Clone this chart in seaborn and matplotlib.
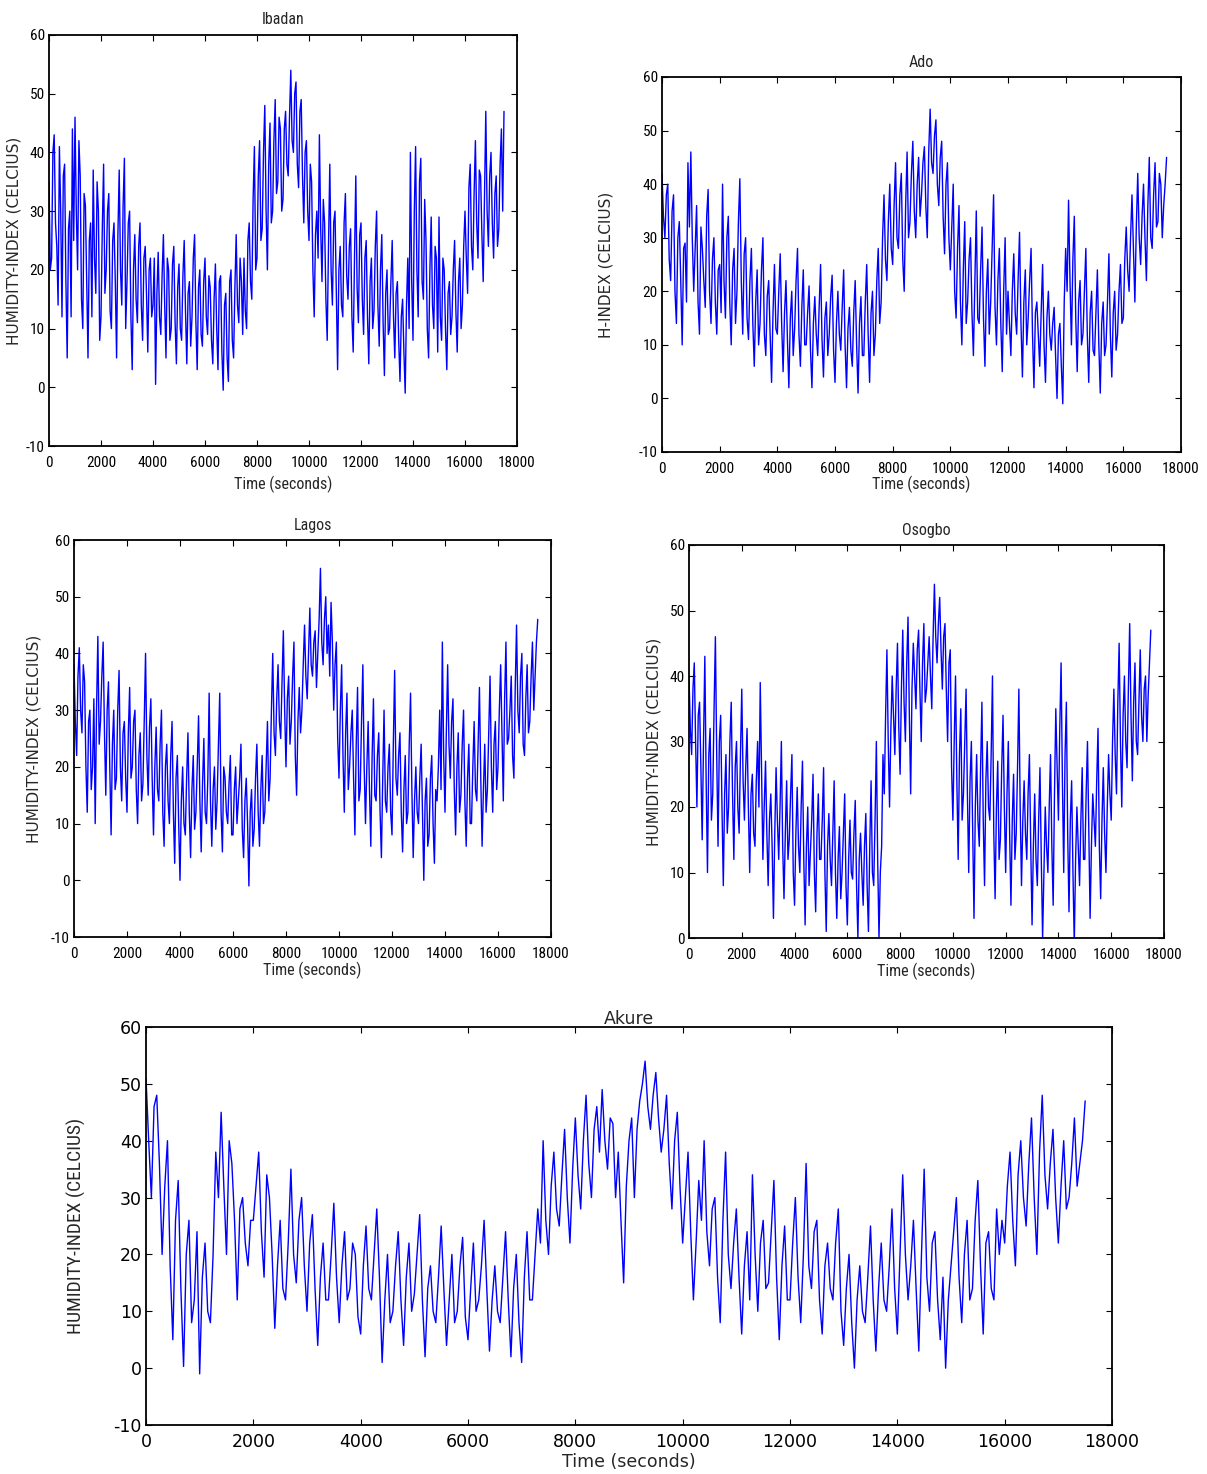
import numpy as np
import pandas as pd
import seaborn as sns
import matplotlib
matplotlib.use("Agg")
import matplotlib.pyplot as plt
from matplotlib import font_manager
from matplotlib.font_manager import FontProperties

# ---------------- data ----------------
# values at t = 0, 100, 200, ... s  and at t = 50, 150, 250, ... s
ibadan_t00 = [35, 22, 43, 24, 41, 12, 38, 5, 30, 44,
              46, 20, 36, 10, 31, 5, 28, 37, 16, 30,
              12, 38, 20, 33, 10, 28, 5, 37, 14, 39,
              18, 30, 3, 26, 11, 28, 8, 24, 6, 22,
              14, 0.5, 23, 9, 26, 5, 20, 10, 24, 4,
              21, 8, 25, 4, 18, 12, 26, 3, 20, 7,
              22, 9, 17, 4, 21, 3, 19, -0.5, 16, 1,
              20, 5, 26, 11, 18, 22, 10, 28, 15, 41,
              22, 42, 27, 48, 20, 45, 30, 49, 35, 44,
              32, 47, 36, 54, 40, 52, 34, 49, 28, 42,
              25, 35, 12, 30, 43, 18, 28, 8, 38, 14,
              30, 3, 24, 12, 33, 15, 27, 6, 36, 11,
              28, 9, 25, 4, 22, 13, 30, 7, 26, 2,
              20, 10, 25, 5, 18, 1, 15, -1, 22, 40,
              8, 41, 12, 39, 15, 25, 5, 29, 10, 22,
              29, 8, 20, 3, 18, 12, 25, 6, 22, 14,
              30, 16, 38, 20, 42, 22, 36, 18, 47, 24,
              40, 22, 36, 27, 44, 47]
ibadan_t50 = [20, 40, 28, 14, 30, 36, 18, 27, 12, 25,
              30, 42, 15, 33, 18, 25, 12, 22, 35, 8,
              27, 16, 30, 13, 25, 18, 26, 20, 31, 10,
              28, 12, 20, 15, 24, 14, 22, 16, 20, 12,
              22, 16, 12, 19, 14, 22, 8, 21, 11, 17,
              10, 19, 13, 16, 7, 22, 11, 17, 9, 18,
              12, 19, 8, 15, 10, 18, 6, 14, 5, 18,
              8, 17, 14, 22, 9, 13, 25, 18, 32, 20,
              36, 25, 40, 30, 38, 28, 42, 33, 46, 30,
              44, 38, 46, 42, 50, 38, 47, 36, 40, 30,
              38, 20, 26, 22, 27, 32, 15, 24, 20, 28,
              16, 20, 14, 28, 19, 24, 12, 22, 17, 26,
              15, 22, 12, 18, 10, 24, 14, 20, 11, 16,
              9, 18, 12, 16, 8, 12, 6, 14, 10, 18,
              30, 20, 35, 18, 32, 10, 20, 14, 24, 6,
              12, 22, 10, 16, 9, 20, 13, 18, 10, 24,
              22, 34, 24, 33, 28, 37, 26, 32, 30, 36,
              28, 33, 24, 38, 30]

ado_t00 = [42, 30, 40, 22, 38, 14, 33, 10, 29, 44,
           46, 20, 36, 12, 28, 17, 39, 14, 30, 12,
           25, 40, 15, 34, 10, 28, 20, 41, 12, 30,
           11, 28, 6, 24, 14, 30, 8, 22, 3, 25,
           12, 27, 5, 22, 2, 20, 13, 28, 6, 24,
           10, 21, 2, 19, 8, 25, 4, 18, 12, 23,
           3, 20, 9, 24, 2, 17, 6, 22, 1, 19,
           8, 25, 3, 20, 12, 28, 18, 38, 22, 40,
           25, 44, 28, 42, 20, 46, 33, 48, 30, 45,
           38, 47, 30, 54, 42, 52, 36, 48, 27, 44,
           24, 40, 15, 36, 10, 33, 18, 30, 8, 35,
           14, 32, 6, 26, 18, 38, 10, 28, 5, 30,
           20, 8, 27, 12, 31, 4, 24, 15, 28, 2,
           18, 6, 25, 3, 20, 9, 17, 0, 14, -1,
           28, 37, 10, 34, 5, 22, 12, 28, 3, 20,
           8, 24, 1, 18, 10, 27, 4, 20, 12, 25,
           15, 32, 20, 38, 18, 42, 25, 40, 22, 45,
           28, 44, 33, 40, 36, 45]
ado_t50 = [34, 38, 26, 35, 20, 30, 22, 28, 18, 32,
           30, 28, 18, 32, 22, 34, 20, 26, 18, 24,
           16, 22, 30, 18, 24, 14, 33, 22, 27, 15,
           22, 14, 18, 10, 24, 12, 19, 12, 16, 13,
           20, 14, 16, 11, 15, 8, 22, 12, 17, 10,
           16, 9, 14, 12, 17, 11, 15, 8, 19, 9,
           14, 12, 17, 10, 13, 9, 16, 10, 14, 8,
           18, 12, 16, 8, 22, 14, 30, 26, 33, 28,
           36, 30, 38, 26, 36, 30, 42, 35, 40, 34,
           44, 36, 46, 44, 49, 40, 45, 34, 40, 30,
           32, 20, 28, 18, 24, 14, 26, 16, 22, 15,
           24, 15, 20, 12, 28, 17, 22, 14, 20, 12,
           14, 20, 16, 22, 14, 18, 10, 22, 12, 16,
           12, 16, 10, 15, 12, 14, 8, 12, 6, 18,
           20, 22, 26, 15, 18, 10, 20, 12, 16, 9,
           16, 10, 14, 8, 18, 12, 16, 9, 20, 14,
           26, 24, 30, 28, 32, 30, 34, 30, 36, 30,
           38, 32, 42, 30, 40]

lagos_t00 = [38, 22, 41, 26, 35, 12, 30, 20, 10, 43,
             28, 42, 15, 35, 8, 30, 18, 37, 14, 28,
             12, 34, 20, 30, 10, 26, 17, 40, 15, 32,
             8, 27, 14, 30, 6, 24, 10, 28, 3, 22,
             0, 20, 8, 26, 4, 22, 12, 29, 5, 25,
             10, 33, 6, 20, 14, 33, 5, 18, 10, 22,
             8, 20, 14, 24, 4, 18, -1, 16, 9, 24,
             6, 22, 12, 28, 18, 40, 22, 38, 25, 44,
             20, 36, 28, 42, 15, 34, 30, 45, 32, 48,
             36, 44, 40, 55, 38, 50, 45, 49, 30, 42,
             18, 38, 12, 33, 20, 30, 8, 34, 16, 38,
             10, 28, 6, 32, 14, 26, 4, 30, 12, 24,
             8, 37, 15, 26, 5, 22, 12, 33, 4, 20,
             10, 24, 0, 18, 8, 22, 3, 14, 30, 42,
             12, 38, 18, 32, 8, 26, 15, 30, 6, 24,
             10, 28, 14, 34, 6, 24, 16, 36, 12, 28,
             20, 38, 14, 42, 25, 36, 18, 45, 26, 40,
             22, 38, 28, 42, 36, 46]
lagos_t50 = [28, 36, 30, 38, 20, 28, 16, 32, 30, 24,
             36, 26, 30, 20, 24, 16, 30, 20, 26, 18,
             26, 18, 28, 16, 22, 14, 28, 22, 27, 18,
             20, 16, 24, 12, 20, 14, 22, 12, 18, 10,
             14, 10, 18, 12, 16, 9, 20, 14, 17, 12,
             18, 14, 16, 9, 24, 12, 20, 12, 17, 8,
             16, 10, 18, 9, 14, 10, 12, 6, 18, 12,
             16, 10, 20, 14, 30, 26, 32, 28, 35, 30,
             32, 24, 36, 22, 28, 26, 38, 36, 40, 38,
             42, 34, 46, 42, 46, 40, 36, 42, 38, 25,
             30, 22, 26, 16, 26, 18, 24, 14, 28, 20,
             20, 16, 22, 15, 22, 12, 18, 14, 20, 12,
             24, 18, 22, 12, 16, 10, 24, 16, 14, 12,
             18, 12, 14, 6, 18, 10, 16, 20, 16, 22,
             26, 24, 28, 16, 20, 12, 24, 14, 18, 10,
             20, 16, 24, 18, 16, 12, 26, 20, 24, 16,
             30, 26, 32, 24, 30, 22, 34, 30, 36, 24,
             32, 26, 36, 30, 42]

osogbo_t00 = [40, 28, 42, 20, 36, 15, 43, 10, 32, 22,
              46, 14, 34, 8, 28, 20, 36, 12, 30, 16,
              38, 18, 32, 10, 25, 14, 30, 39, 12, 27,
              8, 22, 3, 26, 12, 30, 6, 24, 15, 28,
              5, 23, 10, 27, 2, 20, 13, 25, 4, 22,
              12, 26, 1, 19, 8, 24, 3, 17, 10, 22,
              2, 18, 9, 21, 0, 16, 5, 19, 1, 24,
              8, 30, 0, 14, 22, 44, 20, 40, 28, 45,
              25, 47, 30, 49, 22, 45, 35, 47, 30, 48,
              38, 46, 35, 54, 42, 52, 38, 48, 30, 44,
              18, 40, 12, 35, 22, 38, 10, 30, 3, 28,
              14, 36, 8, 30, 18, 40, 6, 27, 15, 34,
              10, 30, 5, 25, 16, 38, 8, 24, 12, 28,
              2, 22, 8, 26, 0, 20, 10, 28, 5, 35,
              18, 42, 10, 36, 4, 24, -1, 20, 8, 26,
              12, 30, 3, 22, 14, 32, 6, 26, 10, 28,
              18, 38, 22, 45, 20, 40, 26, 48, 24, 42,
              28, 44, 30, 40, 37, 47]
osogbo_t50 = [32, 38, 30, 34, 26, 30, 24, 28, 18, 35,
              28, 30, 20, 22, 16, 30, 22, 26, 20, 28,
              24, 26, 20, 22, 16, 24, 20, 26, 20, 16,
              18, 14, 16, 18, 20, 14, 16, 12, 22, 10,
              16, 14, 20, 12, 14, 8, 18, 10, 16, 12,
              18, 10, 14, 12, 16, 10, 12, 6, 16, 8,
              12, 10, 16, 8, 12, 10, 14, 8, 14, 10,
              18, 12, 10, 28, 34, 30, 32, 34, 38, 32,
              38, 36, 42, 34, 38, 40, 44, 38, 42, 36,
              42, 40, 46, 46, 48, 44, 46, 38, 42, 26,
              30, 24, 28, 18, 30, 22, 24, 16, 20, 18,
              26, 18, 24, 20, 28, 16, 20, 12, 26, 20,
              22, 16, 18, 12, 26, 20, 18, 16, 22, 14,
              14, 12, 18, 12, 10, 14, 20, 14, 22, 26,
              32, 24, 28, 16, 18, 10, 12, 14, 18, 12,
              22, 16, 14, 18, 24, 14, 18, 16, 20, 22,
              30, 28, 36, 30, 34, 30, 38, 34, 36, 30,
              36, 34, 38, 30, 42]

akure_t00 = [51, 30, 48, 20, 40, 5, 33, 0.3, 26, 12,
             -1, 22, 8, 38, 45, 20, 36, 12, 30, 18,
             26, 38, 16, 30, 7, 26, 12, 35, 15, 30,
             10, 27, 4, 22, 12, 29, 8, 24, 14, 20,
             6, 25, 12, 28, 1, 20, 10, 24, 4, 22,
             13, 27, 2, 18, 8, 25, 4, 20, 10, 23,
             5, 22, 12, 26, 3, 18, 8, 24, 2, 20,
             1, 24, 12, 28, 40, 20, 38, 25, 42, 22,
             44, 28, 48, 30, 46, 49, 35, 43, 38, 15,
             40, 30, 47, 54, 42, 52, 38, 48, 28, 45,
             22, 38, 12, 33, 40, 18, 30, 8, 38, 14,
             28, 6, 24, 34, 10, 26, 15, 33, 5, 25,
             12, 30, 8, 36, 14, 26, 6, 22, 12, 28,
             4, 20, 0, 18, 8, 25, 3, 22, 10, 28,
             6, 34, 12, 26, 3, 35, 10, 24, 5, 0,
             18, 30, 8, 26, 14, 33, 6, 24, 12, 20,
             22, 38, 18, 40, 25, 44, 20, 48, 28, 42,
             22, 40, 30, 44, 36, 47]
akure_t50 = [40, 46, 36, 32, 18, 26, 14, 20, 8, 24,
             16, 10, 20, 30, 32, 40, 26, 28, 22, 26,
             32, 24, 34, 20, 18, 14, 22, 20, 26, 18,
             22, 14, 16, 12, 20, 16, 18, 12, 22, 9,
             18, 14, 20, 16, 12, 8, 18, 12, 16, 10,
             20, 12, 14, 10, 16, 14, 12, 8, 18, 9,
             14, 10, 18, 14, 12, 10, 16, 12, 14, 8,
             16, 12, 20, 22, 26, 32, 28, 34, 30, 35,
             34, 40, 36, 42, 38, 40, 44, 30, 26, 32,
             44, 42, 50, 46, 48, 44, 42, 36, 40, 32,
             30, 24, 22, 26, 24, 28, 16, 26, 20, 22,
             16, 18, 12, 20, 22, 14, 24, 16, 18, 12,
             22, 16, 20, 18, 24, 12, 18, 14, 22, 10,
             14, 8, 12, 10, 16, 12, 14, 12, 18, 14,
             20, 20, 18, 14, 20, 16, 22, 12, 16, 12,
             24, 16, 20, 12, 26, 18, 22, 14, 28, 26,
             32, 26, 34, 30, 36, 30, 38, 34, 36, 30,
             32, 28, 36, 32, 40]

titles = ["Ibadan", "Ado", "Lagos", "Osogbo", "Akure"]
ylabels = ["HUMIDITY-INDEX (CELCIUS)", "H-INDEX (CELCIUS)",
           "HUMIDITY-INDEX (CELCIUS)", "HUMIDITY-INDEX (CELCIUS)",
           "HUMIDITY-INDEX (CELCIUS)"]
xlabel = "Time (seconds)"
xticks = list(range(0, 18001, 2000))
yticks_full = list(range(-10, 61, 10))
yticks_pos = list(range(0, 61, 10))


def merge(a, b, step=100):
    t = np.concatenate([np.arange(len(a)) * step, np.arange(len(b)) * step + step / 2])
    v = np.concatenate([np.asarray(a, float), np.asarray(b, float)])
    o = np.argsort(t, kind="stable")
    return pd.DataFrame({"t": t[o], "v": v[o]})


# ---------------- style ----------------
sns.set_style("ticks")
plt.rcParams["font.family"] = ["DejaVu Sans"]
plt.rcParams["axes.unicode_minus"] = False

# find a condensed sans font if one is installed
narrow_path = None
pref = ["Liberation Sans Narrow", "Arial Narrow", "Roboto Condensed", "DejaVu Sans Condensed",
        "Open Sans Condensed", "Noto Sans Condensed"]
fl = font_manager.fontManager.ttflist
for p in pref:
    for f in fl:
        if f.name == p and f.style == "normal" and f.weight in (400, "normal", "regular"):
            narrow_path = f.fname
            break
    if narrow_path:
        break
if narrow_path is None:
    for f in fl:
        if (f.stretch in ("condensed", "semi-condensed") or "ondensed" in f.fname or "Narrow" in f.fname) \
                and f.style == "normal" and f.weight in (400, "normal", "regular") and "Mono" not in f.fname \
                and "Serif" not in f.fname:
            narrow_path = f.fname
            break


def nfp(size):
    if narrow_path:
        return FontProperties(fname=narrow_path, size=size)
    return FontProperties(family="DejaVu Sans", size=size * 0.85)


def wfp(size):
    return FontProperties(family="DejaVu Sans", size=size)


fig = plt.figure(figsize=(12.07, 14.74), dpi=100)
W, H = 1207, 1474


def box(l, t, r, b):
    return [l / W, 1 - b / H, (r - l) / W, (b - t) / H]


# data, rect, ylim, yticks, kind, title pad, xlabel pad, ylabel pad
panels = [
    (merge(ibadan_t00, ibadan_t50), box(49, 35, 517, 446), (-10, 60), yticks_full, "small", 8, 4, 3),
    (merge(ado_t00, ado_t50), box(662, 77, 1181, 452), (-10, 60), yticks_full, "small", 7, 0, 18),
    (merge(lagos_t00, lagos_t50), box(74, 540, 551, 937), (-10, 60), yticks_full, "small", 7, 1, 7),
    (merge(osogbo_t00, osogbo_t50), box(689, 545, 1164, 938), (0, 60), yticks_pos, "small", 7, 1, 6),
    (merge(akure_t00, akure_t50), box(146, 1027, 1112, 1425), (-10, 60), yticks_full, "big", 2, 1, 20),
]

for i, (df, rect, ylim, yt, kind, tpad, xlpad, ylpad) in enumerate(panels):
    ax = fig.add_axes(rect)
    sns.lineplot(data=df, x="t", y="v", ax=ax, color="#0000ff", lw=1.0)
    ax.set_xlim(0, 18000)
    ax.set_ylim(*ylim)
    ax.set_xticks(xticks)
    ax.set_yticks(yt)
    for s in ax.spines.values():
        s.set_linewidth(1.3)
        s.set_color("black")
    ax.tick_params(direction="in", top=True, right=True, length=4, width=0.8,
                   colors="black", pad=3)
    if kind == "small":
        ax.tick_params(axis="x", pad=7)
        for lab in ax.get_xticklabels() + ax.get_yticklabels():
            lab.set_fontproperties(nfp(11))
        ax.set_title(titles[i], fontproperties=nfp(11.5), pad=tpad)
        ax.set_xlabel(xlabel, fontproperties=nfp(11.5), labelpad=xlpad)
        ax.set_ylabel(ylabels[i], fontproperties=wfp(11), labelpad=ylpad)
    else:
        ax.tick_params(axis="x", pad=6)
        for lab in ax.get_xticklabels() + ax.get_yticklabels():
            lab.set_fontproperties(wfp(12.5))
        ax.set_title(titles[i], fontproperties=wfp(12.5), pad=tpad)
        ax.set_xlabel(xlabel, fontproperties=wfp(12.5), labelpad=xlpad)
        ax.set_ylabel(ylabels[i], fontproperties=nfp(14), labelpad=ylpad)

fig.savefig("out.png", dpi=100)
